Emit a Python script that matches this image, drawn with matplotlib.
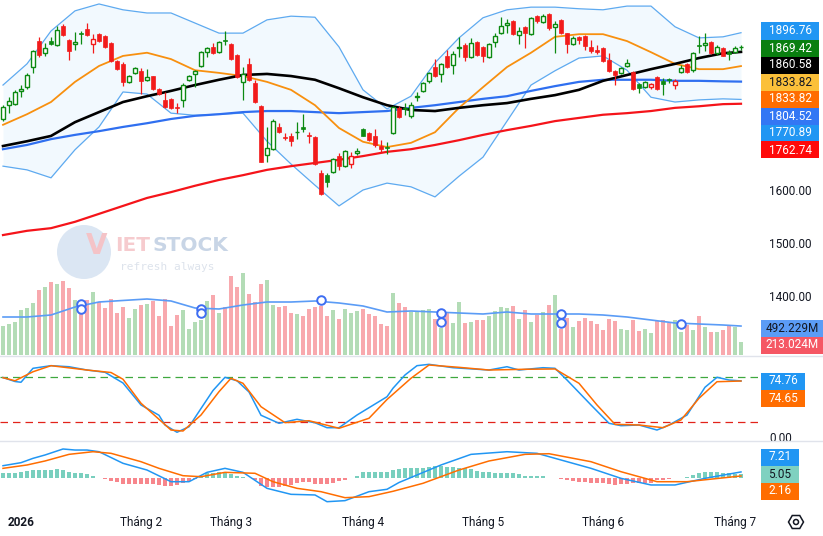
import matplotlib.pyplot as plt
import numpy as np
from matplotlib.lines import Line2D
from matplotlib.patches import Circle, Rectangle, RegularPolygon

plt.rcParams["font.family"] = ["Roboto", "DejaVu Sans"]

# daily candles, late Dec 2025 .. early Jul 2026
opens = [1734, 1760, 1762, 1787, 1794, 1832, 1881, 1859, 1881, 1874,
         1909, 1883, 1876, 1896, 1904, 1876, 1894, 1891, 1877, 1843,
         1838, 1804, 1821, 1825, 1808, 1815, 1791, 1770, 1772, 1757,
         1770, 1808, 1819, 1834, 1860, 1870, 1860, 1883, 1876, 1855,
         1804, 1838, 1802, 1758, 1666, 1677, 1719, 1700, 1702, 1709,
         1719, 1704, 1700, 1632, 1628, 1634, 1664, 1645, 1649, 1670,
         1715, 1708, 1702, 1683, 1681, 1708, 1755, 1754, 1740, 1775,
         1787, 1806, 1832, 1819, 1853, 1836, 1868, 1874, 1851, 1879,
         1870, 1851, 1879, 1896, 1911, 1919, 1892, 1908, 1894, 1928,
         1917, 1932, 1908, 1921, 1896, 1876, 1889, 1891, 1870, 1865,
         1868, 1845, 1825, 1821, 1834, 1823, 1800, 1794, 1794, 1813,
         1806, 1809, 1798, 1823, 1838, 1826, 1873, 1874, 1879, 1858,
         1868, 1860, 1860, 1869.0]
highs = [1760, 1776, 1789, 1798, 1821, 1864, 1889, 1877, 1889, 1909,
         1913, 1885, 1898, 1900, 1915, 1894, 1896, 1893, 1879, 1845,
         1842, 1817, 1832, 1830, 1828, 1816, 1793, 1785, 1774, 1764,
         1802, 1817, 1826, 1862, 1869, 1877, 1881, 1900, 1877, 1857,
         1832, 1849, 1808, 1760, 1719, 1734, 1726, 1707, 1707, 1728,
         1743, 1709, 1701, 1638, 1632, 1660, 1670, 1676, 1672, 1679,
         1717, 1709, 1715, 1694, 1690, 1759, 1759, 1764, 1766, 1785,
         1804, 1823, 1847, 1839, 1864, 1862, 1889, 1877, 1887, 1881,
         1872, 1877, 1896, 1926, 1923, 1921, 1908, 1909, 1926, 1930,
         1932, 1934, 1919, 1923, 1897, 1891, 1890, 1893, 1883, 1874,
         1870, 1858, 1826, 1832, 1847, 1825, 1802, 1806, 1802, 1815,
         1811, 1811, 1809, 1836, 1840, 1860, 1891, 1896, 1881, 1874,
         1870, 1864, 1872, 1874]
lows = [1730, 1745, 1760, 1776, 1791, 1821, 1851, 1853, 1874, 1872,
        1891, 1845, 1864, 1876, 1891, 1859, 1879, 1868, 1842, 1826,
        1796, 1802, 1819, 1781, 1806, 1789, 1779, 1755, 1753, 1745,
        1757, 1806, 1794, 1832, 1851, 1857, 1859, 1874, 1845, 1811,
        1770, 1806, 1764, 1652, 1653, 1675, 1707, 1694, 1683, 1696,
        1709, 1689, 1647, 1591, 1606, 1633, 1638, 1644, 1641, 1666,
        1701, 1692, 1681, 1672, 1668, 1706, 1736, 1741, 1736, 1768,
        1785, 1802, 1813, 1804, 1830, 1819, 1851, 1843, 1849, 1853,
        1842, 1849, 1870, 1894, 1896, 1892, 1876, 1868, 1892, 1915,
        1915, 1902, 1858, 1894, 1858, 1874, 1876, 1864, 1858, 1857,
        1842, 1823, 1798, 1819, 1832, 1789, 1783, 1792, 1791, 1789,
        1779, 1802, 1791, 1821, 1821, 1823, 1858, 1862, 1857, 1855,
        1852, 1845, 1858, 1864]
closes = [1757, 1767, 1785, 1790, 1817, 1862, 1855, 1868, 1876, 1902,
          1893, 1862, 1879, 1894, 1893, 1885, 1881, 1870, 1843, 1828,
          1804, 1815, 1830, 1806, 1813, 1791, 1781, 1757, 1755, 1754,
          1798, 1815, 1825, 1860, 1868, 1859, 1879, 1881, 1847, 1813,
          1819, 1808, 1766, 1653, 1679, 1730, 1709, 1698, 1692, 1710,
          1715, 1701, 1649, 1592, 1615, 1659, 1645, 1674, 1664, 1674,
          1702, 1694, 1685, 1677, 1680, 1757, 1738, 1752, 1760, 1777,
          1802, 1821, 1815, 1838, 1832, 1857, 1869, 1851, 1877, 1855,
          1853, 1876, 1891, 1909, 1915, 1894, 1900, 1896, 1925, 1919,
          1928, 1906, 1913, 1896, 1876, 1887, 1883, 1872, 1862, 1861,
          1843, 1825, 1817, 1830, 1840, 1791, 1792, 1804, 1800, 1791,
          1800, 1807, 1806, 1830, 1823, 1858, 1871, 1877, 1858, 1870,
          1853, 1857, 1868, 1869.42]
# volume, millions
volumes = [493, 527, 561, 765, 799, 884, 1105, 1156, 1241, 1207,
           1258, 1139, 935, 697, 935, 1071, 901, 799, 952, 714,
           816, 629, 782, 850, 867, 918, 663, 952, 493, 680,
           765, 442, 561, 595, 918, 1020, 714, 816, 1343, 1156,
           1394, 1037, 901, 1207, 1275, 850, 816, 833, 714, 697,
           663, 782, 816, 833, 663, 765, 612, 782, 714, 748,
           782, 697, 663, 527, 493, 1054, 884, 816, 736, 736,
           765, 782, 612, 459, 731, 544, 901, 544, 561, 595,
           595, 663, 748, 816, 799, 833, 612, 765, 561, 680,
           731, 850, 1020, 442, 629, 476, 578, 629, 578, 527,
           425, 612, 578, 442, 425, 595, 408, 442, 374, 578,
           595, 544, 595, 396, 510, 425, 663, 476, 391, 391,
           425, 493, 476, 213.024]

# indicator lines, read every 4th bar
line_idx = [0, 4, 8, 12, 16, 20, 24, 28, 32, 36, 40, 44, 48, 52, 56, 60,
            64, 68, 72, 76, 80, 84, 88, 92, 96, 100, 104, 108, 112, 116, 120, 123]
ma20 = [1723, 1743, 1766, 1804, 1834, 1853, 1859, 1847, 1826, 1821, 1815, 1804, 1789, 1760, 1717, 1691,
        1681, 1689, 1709, 1755, 1794, 1832, 1859, 1889, 1894, 1894, 1881, 1860, 1838, 1828, 1828, 1833.82]
ma50 = [1683, 1692, 1702, 1728, 1747, 1766, 1777, 1787, 1798, 1808, 1817, 1819, 1815, 1808, 1792, 1775,
        1760, 1751, 1749, 1755, 1760, 1764, 1772, 1779, 1789, 1806, 1817, 1828, 1838, 1849, 1858, 1860.58]
ma100 = [1677, 1685, 1696, 1704, 1711, 1719, 1726, 1734, 1740, 1743, 1747, 1749, 1749, 1747, 1745, 1747,
         1749, 1755, 1760, 1766, 1772, 1777, 1787, 1796, 1804, 1808, 1808, 1808, 1806, 1806, 1805, 1804.52]
ma200 = [1515, 1523, 1528, 1540, 1555, 1570, 1585, 1596, 1608, 1619, 1628, 1638, 1645, 1651, 1657, 1664,
         1672, 1677, 1685, 1694, 1704, 1713, 1721, 1730, 1736, 1742, 1745, 1749, 1755, 1758, 1762, 1762.74]
bb_upper = [1798, 1838, 1900, 1938, 1951, 1940, 1934, 1934, 1915, 1896, 1896, 1921, 1928, 1926, 1870, 1789,
            1753, 1777, 1840, 1887, 1925, 1940, 1945, 1945, 1942, 1940, 1947, 1947, 1908, 1887, 1889, 1896.76]
bb_lower = [1645, 1638, 1623, 1676, 1719, 1785, 1781, 1745, 1741, 1743, 1745, 1692, 1649, 1609, 1570, 1600,
            1613, 1606, 1587, 1626, 1662, 1730, 1798, 1825, 1849, 1853, 1826, 1775, 1766, 1770, 1772, 1770.89]
vol_ma = [646, 646, 680, 816, 901, 927, 952, 918, 799, 782, 850, 901, 901, 918, 884, 833,
          731, 748, 731, 714, 697, 731, 697, 697, 697, 680, 646, 595, 544, 527, 510, 492.229]
marker_idx = [13, 13, 33, 33, 53, 73, 73, 93, 93, 113]
marker_vol = [867, 782, 782, 714, 935, 714, 561, 697, 544, 527]

stoch_k_idx = [0, 2, 3, 5, 8, 11, 14, 17, 20, 23, 26, 27, 29, 31, 33, 35, 37, 39, 41, 43,
               46, 49, 52, 54, 56, 59, 64, 65, 67, 69, 71, 75, 81, 84, 86, 90, 92, 94, 98, 101,
               103, 106, 109, 111, 114, 117, 119, 121, 123]
stoch_k = [79.3, 74, 73, 91.6, 95.1, 93.7, 89.3, 86.3, 72, 42.7, 29, 16, 6.3, 13.7, 38, 62, 79.6, 75, 60, 29,
           18.3, 23.6, 19, 12.4, 12.4, 29.3, 53.7, 65, 82.7, 95.1, 96.9, 92.4, 89.3, 93.7, 89.3, 92.4, 91.6, 76, 42.7, 18.3,
           15.1, 16, 9.3, 16, 29.3, 66.3, 79.6, 76, 74.76]
stoch_d_idx = [0, 2, 5, 8, 14, 18, 20, 23, 28, 30, 33, 36, 38, 40, 43, 47, 51, 56, 61, 64,
               68, 71, 76, 81, 87, 92, 96, 99, 102, 106, 110, 113, 116, 119, 123]
stoch_d = [79.1, 75, 87, 95.1, 89.3, 86, 77, 45, 9.3, 8, 29.3, 60.4, 78.3, 71.6, 40.4, 19.1, 21.7, 11.6, 25, 50,
           78.3, 96, 92.9, 89.3, 90.3, 90.7, 71.6, 42.7, 16.9, 16, 12.4, 22.7, 51.6, 73.7, 74.65]

macd_idx = [0, 3, 5, 7, 10, 12, 14, 16, 20, 24, 28, 31, 34, 37, 40, 44, 48, 52, 54, 57,
            61, 64, 66, 73, 78, 84, 89, 98, 103, 108, 112, 117, 123]
macd = [15, 18.8, 24.2, 28.4, 35.9, 34.6, 34.6, 32.5, 18, 9.6, -5, -5, 6.7, 11.7, 6.7, -13.3, -20.8, -21.6, -30, -28.7,
        -17.5, -14.5, -6, 15.9, 29.2, 32.5, 30.5, 11.7, -0.8, -9.1, -9.1, -0.8, 7.21]
signal_idx = [0, 4, 7, 11, 15, 18, 23, 26, 30, 33, 37, 42, 45, 49, 53, 57, 61, 65, 70, 76,
              81, 87, 91, 98, 103, 109, 114, 123]
signal = [11.7, 15.9, 20.9, 29.2, 32.5, 30.5, 20, 11.7, 2.5, 1.25, 6.7, 5.5, -5, -13.3, -17.5, -25, -23.7, -17, -7, 9.6,
          20.9, 29.2, 30, 20, 7.5, -5, -5, 2.16]
hist = [5.4, 5.4, 6.3, 7.5, 8.8, 9.2, 10, 10, 10, 10.8,
        9.2, 7.5, 6.3, 5.4, 4.2, 2.1, -0.8, -1.7, -4.2, -5.8,
        -7.9, -8.3, -8.3, -8.3, -8.3, -8.3, -9.2, -10, -10, -9.2,
        -6.3, -4.2, -1.7, 2.5, 5.4, 6.3, 6.7, 5.4, 4.2, 2.5,
        0.8, -0.8, -3.3, -10, -11.3, -11.3, -11.3, -10, -9.2, -7.1,
        -5.8, -5.8, -7.5, -8.3, -8.3, -6.7, -4.2, -2.5, -0.8, 1.7,
        6.7, 7.5, 7.5, 7.1, 6.7, 9.6, 10.8, 11.7, 11.7, 11.7,
        12.5, 13.8, 14.6, 14.6, 13.8, 13.8, 12.5, 11.7, 10.8, 8.3,
        7.5, 6.7, 5.8, 5.8, 5.8, 5.4, 4.2, 2.5, 2.5, 2.5,
        2.5, -0.8, -0.8, -1.7, -2.9, -4.2, -5, -5.8, -6.7, -7.1,
        -7.1, -8.3, -9.2, -8.3, -8.3, -7.1, -6.7, -6.7, -6.3, -3.3,
        -2.5, -1.7, -0.8, -0.8, 1.25, 3.3, 6.3, 6.7, 6.7, 6.7,
        6.3, 5.8, 5.0, 5.05]

tick_idx = [3, 23, 38, 60, 80, 100, 122]
tick_labels = ["2026", "Tháng 2", "Tháng 3", "Tháng 4", "Tháng 5", "Tháng 6", "Tháng 7"]

GREEN = "#0c8a12"
RED = "#f21b1b"
TEXT = "#131722"
W, H = 823, 536
PLOT_W = 758

fig = plt.figure(figsize=(W / 100, H / 100), dpi=100, facecolor="white")


def pane(top, bottom):
    a = fig.add_axes([0, 1 - bottom / H, PLOT_W / W, (bottom - top) / H])
    a.set_facecolor("none")
    for s in a.spines.values():
        s.set_visible(False)
    a.set_xlim(-0.5, PLOT_W / 6 - 0.5)
    a.yaxis.tick_right()
    a.tick_params(length=0, labelsize=8.5, colors=TEXT, pad=8)
    a.set_xticks([])
    return a


# ---- price pane ----
ax = pane(0, 356)
ax.set_ylim(1286.8, 1958.5)

ax.fill_between(line_idx, bb_lower, bb_upper, color="#2196f3", alpha=0.055, lw=0, zorder=1)
ax.plot(line_idx, bb_upper, color="#5eaaf0", lw=0.9, zorder=2)
ax.plot(line_idx, bb_lower, color="#5eaaf0", lw=0.9, zorder=2)
ax.plot(line_idx, ma200, color="#f5141a", lw=1.6, zorder=3)
ax.plot(line_idx, ma100, color="#2f6ff0", lw=1.6, zorder=3)
ax.plot(line_idx, ma20, color="#f8900f", lw=1.3, zorder=3)
ax.plot(line_idx, ma50, color="#000000", lw=1.9, zorder=3)

o, hi, lo, c = (np.array(v, dtype=float) for v in (opens, highs, lows, closes))
x = np.arange(len(c))
prev = np.r_[o[0], c[:-1]]
cols = np.where(c >= prev, GREEN, RED)
ax.vlines(x, lo, hi, colors=cols, lw=0.9, zorder=4)
for i in x:
    b0, b1 = sorted((o[i], c[i]))
    hgt = max(b1 - b0, 0.6)
    if c[i] > o[i]:
        ax.add_patch(Rectangle((i - 0.28, b0), 0.56, hgt, facecolor="white",
                               edgecolor=cols[i], lw=1.0, zorder=5))
    else:
        ax.add_patch(Rectangle((i - 0.34, b0), 0.68, hgt, facecolor=cols[i],
                               edgecolor=cols[i], lw=0.5, zorder=5))

# volume overlay
axv = ax.twinx()
axv.set_xlim(ax.get_xlim())
axv.set_ylim(-17, 6035)
axv.axis("off")
vcols = np.where(c >= o, "#b3dcb6", "#f8a9ae")
axv.bar(x, volumes, width=0.78, color=vcols, zorder=1)
axv.plot(line_idx, vol_ma, color="#5b9cf6", lw=1.2, zorder=2)
axv.scatter(marker_idx, marker_vol, s=38, facecolor="white", edgecolor="#3d6df2", lw=1.4, zorder=3)

# twinx moves the price ticks to the left; put them back on the right
ax.yaxis.tick_right()
ax.tick_params(length=0, labelsize=8.5, colors=TEXT, pad=8)
ax.set_yticks([1400, 1500, 1600])
ax.set_yticklabels([f"{v:.2f}" for v in (1400, 1500, 1600)])

# ---- stochastic pane ----
axs = pane(356, 441)
axs.set_ylim(-5.33, 108)
axs.set_yticks([0, 80])
axs.set_yticklabels(["0.00", "80.00"])
axs.axhline(80, color="#3fa83f", lw=0.9, ls=(0, (6, 4)))
axs.axhline(20, color="#e2231a", lw=0.9, ls=(0, (6, 4)))
axs.plot(stoch_k_idx, stoch_k, color="#2196f3", lw=1.1)
axs.plot(stoch_d_idx, stoch_d, color="#ff6d00", lw=1.1)

# ---- MACD pane ----
axm = pane(441, 510)
axm.set_ylim(-40.4, 45.9)
axm.set_yticks([])
hcols = ["#79cfbe" if v >= 0 else "#f7868c" for v in hist]
axm.bar(x, hist, width=0.75, color=hcols)
axm.plot(macd_idx, macd, color="#2196f3", lw=1.1)
axm.plot(signal_idx, signal, color="#ff6d00", lw=1.1)
axm.set_xticks(tick_idx)
axm.set_xticklabels(tick_labels)
axm.tick_params(axis="x", pad=4)
axm.get_xticklabels()[0].set_fontweight("bold")

# pane separators
for yy in (356, 441):
    fig.add_artist(Line2D([0, 1], [1 - yy / H] * 2, transform=fig.transFigure,
                          color="#e0e3eb", lw=1))


def tag(y, text, bg, fg="white", w=58):
    fig.add_artist(Rectangle((761 / W, 1 - (y + 8.5) / H), w / W, 17 / H,
                             transform=fig.transFigure, facecolor=bg, edgecolor="none"))
    fig.text((761 + w / 2) / W, 1 - y / H, text, ha="center", va="center",
             color=fg, fontsize=8.5)


tag(31, f"{bb_upper[-1]:.2f}", "#2196f3")
tag(48, f"{closes[-1]:.2f}", "#0a7f10")
tag(65, f"{ma50[-1]:.2f}", "#000000")
tag(82, f"{ma20[-1]:.2f}", "#fbc03a", fg=TEXT)
tag(99, f"{ma20[-1]:.2f}", "#ff6d00")
tag(116, f"{ma100[-1]:.2f}", "#3377f4")
tag(133, f"{bb_lower[-1]:.2f}", "#2196f3")
tag(150, f"{ma200[-1]:.2f}", "#ff0a0a")
tag(328, f"{vol_ma[-1]:.3f}M", "#5b9cf6", fg=TEXT, w=62)
tag(345, f"{volumes[-1]:.3f}M", "#f55764", w=62)
tag(381, f"{stoch_k[-1]:.2f}", "#2196f3", w=44)
tag(398, f"{stoch_d[-1]:.2f}", "#ff6d00", w=44)
tag(457, f"{macd[-1]:.2f}", "#2196f3", w=38)
tag(474, f"{hist[-1]:.2f}", "#7fd1c0", fg=TEXT, w=38)
tag(491, f"{signal[-1]:.2f}", "#ff6d00", w=38)

# watermark
fig.add_artist(Circle((0.84, (H - 252) / 100), 0.27, transform=fig.dpi_scale_trans,
                      facecolor="#dbe6f3", edgecolor="none", zorder=-2))
fig.text(86 / W, 1 - 246 / H, "V", color="#f4c3c7", fontsize=20, fontweight="bold",
         va="center", ha="left", zorder=-1, family="DejaVu Sans")
fig.text(115 / W, 1 - 246 / H, "IET", color="#f6cbce", fontsize=14.5, fontweight="bold",
         va="center", ha="left", zorder=-1, family="DejaVu Sans")
fig.text(153 / W, 1 - 246 / H, "STOCK", color="#c8d5e6", fontsize=14.5, fontweight="bold",
         va="center", ha="left", zorder=-1, family="DejaVu Sans")
fig.text(120 / W, 1 - 267 / H, "refresh always", color="#dde3ec", fontsize=8,
         va="center", ha="left", zorder=-1, family="DejaVu Sans Mono")

# settings icon
fig.add_artist(RegularPolygon((7.96, (H - 522) / 100), 6, radius=0.075, orientation=np.pi / 6,
                              transform=fig.dpi_scale_trans, facecolor="none",
                              edgecolor=TEXT, lw=1.1))
fig.add_artist(Circle((7.96, (H - 522) / 100), 0.025, transform=fig.dpi_scale_trans,
                      facecolor="none", edgecolor=TEXT, lw=1.1))

fig.savefig("out.png", dpi=100, facecolor="white")
